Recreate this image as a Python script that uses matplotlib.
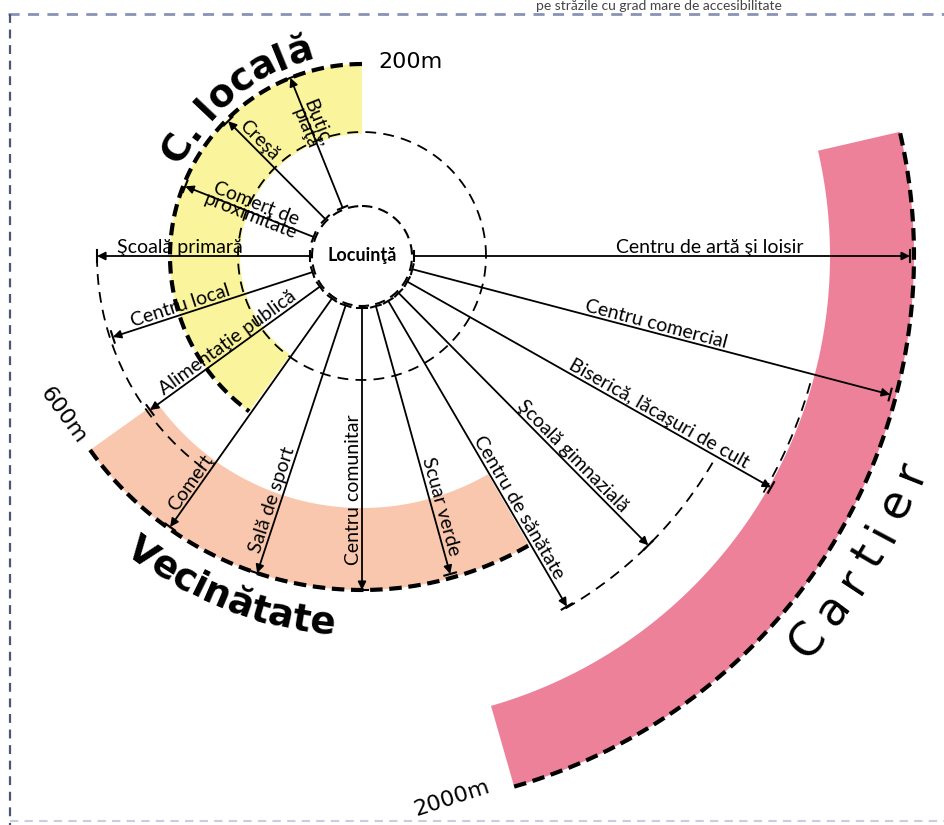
import numpy as np
import matplotlib.pyplot as plt
from matplotlib.patches import Polygon, Circle

W, H = 944, 825
cx, cy = 362, 256          # centre (Locuinta), pixel coords
r_home = 50

# services: label, direction (deg, counter-clockwise from east), reach and label position
labels = ["Şcoală primară", "Centru local", "Alimentaţie publică", "Comerţ", "Sală de sport",
          "Centru comunitar", "Scuar verde", "Centru de sănătate", "Şcoală gimnazială",
          "Biserică, lăcaşuri de cult", "Centru comercial", "Centru de artă şi loisir",
          "Comerţ de\nproximitate", "Creşă", "Butic,\npiaţă"]
angles = [180, 198, 216, 234.7, 251.7, 270, 285.5, 300.3, 314.7, 330.5, 345.3, 0, 158.5, 134.8, 111.9]
r_end = [265, 262, 262, 332, 334, 334, 330, 406, 407, 470, 546, 548, 190, 190, 192]
r_lab = [182, 188, 160, 284, 260, 234, 262, 296, 291, 336, 302, 348, 118, 155, 140]
lab_off = [9, 9, 9, 9, 9, 8, 9, 9, 9, 9, 9, 9, 3, 9, 2]

# zones
zone_names = ["C. locală", "Vecinătate", "Cartier"]
zone_dist = ["200m", "600m", "2000m"]
band_in = [122, 252, 468]
band_out = [192, 334, 552]
band_a1 = [90, 215.5, -74]
band_a2 = [234, 300, 13]
band_col = ['#faf49c', '#f9c7ad', '#ed8199']

# thin dashed arcs: radius, from, to
thin_r = [124, 265, 407, 466]
thin_a1 = [0, 180, -60, -30.5]
thin_a2 = [360, 233, -30, -15]

fig = plt.figure(figsize=(9.44, 8.25), dpi=100)
ax = fig.add_axes([0, 0, 1, 1])
ax.set_xlim(0, W)
ax.set_ylim(H, 0)
ax.axis('off')

small = ['Lato', 'DejaVu Sans']


def pol(r, a):
    a = np.radians(a)
    return cx + r*np.cos(a), cy - r*np.sin(a)


def arc(r, a1, a2, **kw):
    t = np.linspace(a1, a2, 300)
    x, y = pol(r, t)
    ax.plot(x, y, **kw)


def arc_text(s, r, a_mid, size, weight, inward, spacing=0, family='DejaVu Sans'):
    rend = fig.canvas.get_renderer()
    w = []
    for ch in s:
        if ch == ' ':
            w.append(size*0.33*100/72)
            continue
        t = ax.text(0, 0, ch, fontsize=size, fontweight=weight, family=family)
        w.append(t.get_window_extent(rend).width)
        t.remove()
    total = sum(w) + spacing*(len(s)-1)
    sgn = 1 if inward else -1
    start = a_mid - sgn*np.degrees(total/2/r)
    pos = 0
    for ch, wi in zip(s, w):
        a = start + sgn*np.degrees((pos + wi/2)/r)
        pos += wi + spacing
        x, y = pol(r, a)
        rot = a + 90 if inward else a - 90
        ax.text(x, y, ch, fontsize=size, fontweight=weight, family=family, rotation=rot,
                rotation_mode='anchor', ha='center', va='baseline', zorder=6)


# coloured bands
for ri, ro, a1, a2, c in zip(band_in, band_out, band_a1, band_a2, band_col):
    t = np.linspace(a1, a2, 300)
    xo, yo = pol(ro, t)
    xi, yi = pol(ri, t[::-1])
    ax.add_patch(Polygon(np.column_stack([np.r_[xo, xi], np.r_[yo, yi]]), closed=True,
                         fc=c, ec='none', zorder=1))

# thin dashed rings
for r, a1, a2 in zip(thin_r, thin_a1, thin_a2):
    arc(r, a1, a2, color='k', lw=1.3, dashes=(6, 4), zorder=2)

# thick dashed zone limits
for ro, a1, a2 in zip(band_out, band_a1, band_a2):
    arc(ro, a1, a2, color='k', lw=3, dashes=(3, 1.6), zorder=2)

# service arrows
for lab, a, re, rl, off in zip(labels, angles, r_end, r_lab, lab_off):
    ax.annotate('', xy=pol(re, a), xytext=pol(r_home + 2, a),
                arrowprops=dict(arrowstyle='-|>', color='k', lw=1.3, mutation_scale=12,
                                shrinkA=0, shrinkB=0), zorder=4)
    pa, pb = np.sin(np.radians(a)), np.cos(np.radians(a))
    for rr, h in [(r_home + 2, 5), (re, 6)]:
        x0, y0 = pol(rr, a)
        ax.plot([x0 - h*pa, x0 + h*pa], [y0 - h*pb, y0 + h*pb], color='k', lw=1.5, zorder=4)
    an = ((a + 180) % 360) - 180
    rot = an if -90 < an <= 90 else (an % 360) - 180
    x, y = pol(rl, a)
    x += off*np.cos(np.radians(rot + 90))
    y -= off*np.sin(np.radians(rot + 90))
    ax.text(x, y, lab, fontsize=14, family=small, rotation=rot, rotation_mode='anchor',
            ha='center', va='center', linespacing=0.8, zorder=5)

# home circle
ax.add_patch(Circle((cx, cy), r_home, fc='white', ec='k', lw=1.5, ls=(0, (5, 3)), zorder=5))
ax.text(cx, cy, "Locuinţă", fontsize=13, fontweight='bold', family=small,
        ha='center', va='center', zorder=6)

# zone names
arc_text(zone_names[0], 203, 128.5, 27, 'bold', inward=False)
arc_text(zone_names[1], 380, 248.5, 27, 'bold', inward=True)
arc_text(zone_names[2], 602, -31.5, 33, 'normal', inward=True, spacing=12)

ax.text(410, 62, zone_dist[0], fontsize=16, ha='center', va='center')
ax.text(63, 415, zone_dist[1], fontsize=16, ha='center', va='center', rotation=-54)
ax.text(452, 798, zone_dist[2], fontsize=16, ha='center', va='center', rotation=18)

# page frame and header
ax.plot([8, W], [14, 14], color='#8a93b5', lw=2, dashes=(4, 3))
ax.plot([10, 10], [14, H], color='#4d5670', lw=1.6, dashes=(4, 3))
ax.plot([10, W], [821, 821], color='#c9cde0', lw=1.5, dashes=(4, 3))
ax.text(659, 6, "pe străzile cu grad mare de accesibilitate", fontsize=10, family=small,
        color='#444444', ha='center', va='center')

fig.savefig('out.png', dpi=100)
